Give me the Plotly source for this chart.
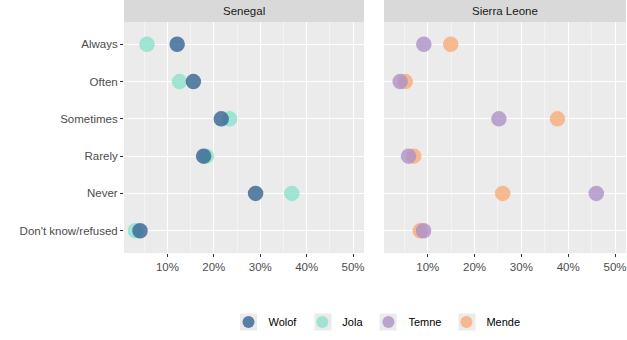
import plotly.graph_objects as go

categories = ["Always", "Often", "Sometimes", "Rarely", "Never", "Don't know/refused"]
wolof = [12.1, 15.6, 21.6, 17.8, 29.0, 4.1]
jola = [5.6, 12.6, 23.4, 18.4, 36.8, 3.1]
temne = [9.15, 4.1, 25.2, 5.9, 46.0, 9.1]
mende = [14.9, 5.2, 37.7, 7.0, 26.0, 8.4]
panels = ["Senegal", "Sierra Leone"]
x_ticks = [10, 20, 30, 40, 50]
x_tick_labels = ["10%", "20%", "30%", "40%", "50%"]

colors = {"Wolof": "#366493", "Jola": "#8CE1CD", "Temne": "#AC91C8", "Mende": "#F7AC78"}

W, H = 627, 340
FONT = "Liberation Sans, Arial, sans-serif"

def px(x):
    return x / W

def py(y):
    return 1 - y / H

fig = go.Figure()

series = [
    ("Jola", jola, "x", "y", 2),
    ("Wolof", wolof, "x", "y", 1),
    ("Mende", mende, "x2", "y2", 4),
    ("Temne", temne, "x2", "y2", 3),
]
for name, vals, xa, ya, rank in series:
    fig.add_trace(go.Scatter(
        x=vals, y=categories, mode="markers", name=name,
        xaxis=xa, yaxis=ya, legendrank=rank,
        marker=dict(size=15.5, color=colors[name], opacity=0.8, line=dict(width=0)),
        hoverinfo="x+y+name",
    ))

ydom = [py(253), py(22)]
xdom1 = [px(124), px(364)]
xdom2 = [px(384), px(626)]

xcommon = dict(
    range=[0.65, 52.35], tickmode="array", tickvals=x_ticks, ticktext=x_tick_labels,
    showgrid=True, gridcolor="white", gridwidth=1.1, zeroline=False,
    minor=dict(tickmode="array", tickvals=[5, 15, 25, 35, 45], showgrid=True, gridcolor="#F4F4F4", gridwidth=0.6),
    ticks="outside", ticklen=3, tickcolor="#333333", tickwidth=1,
    tickfont=dict(family=FONT, size=11.5, color="#4D4D4D"),
    showline=False, automargin=False, fixedrange=True,
)
ycommon = dict(
    categoryorder="array", categoryarray=categories, range=[5.6, -0.6],
    showgrid=True, gridcolor="white", gridwidth=1.1, zeroline=False,
    ticklen=3, tickcolor="#333333", tickwidth=1,
    tickfont=dict(family=FONT, size=11.5, color="#4D4D4D"),
    showline=False, automargin=False, fixedrange=True,
)

fig.update_layout(
    width=W, height=H,
    margin=dict(l=0, r=0, t=0, b=0),
    paper_bgcolor="white", plot_bgcolor="#EBEBEB",
    xaxis=dict(domain=xdom1, anchor="y", **xcommon),
    xaxis2=dict(domain=xdom2, anchor="y2", **xcommon),
    yaxis=dict(domain=ydom, anchor="x", ticks="outside", **ycommon),
    yaxis2=dict(domain=ydom, anchor="x2", ticks="", showticklabels=False, **ycommon),
    showlegend=True,
    legend=dict(
        orientation="h", x=px(377), xanchor="center", y=py(322), yanchor="middle",
        font=dict(family=FONT, size=11, color="#000000"),
        itemsizing="constant", bgcolor="rgba(0,0,0,0)", traceorder="normal",
        itemclick=False, itemdoubleclick=False,
    ),
    font=dict(family=FONT),
)

# facet strips
for dom, label in zip([xdom1, xdom2], panels):
    fig.add_shape(type="rect", xref="paper", yref="paper",
                  x0=dom[0], x1=dom[1], y0=py(22), y1=1,
                  fillcolor="#D9D9D9", line=dict(width=0), layer="below")
    fig.add_annotation(xref="paper", yref="paper", x=(dom[0] + dom[1]) / 2, y=py(11),
                       text=label, showarrow=False, xanchor="center", yanchor="middle",
                       font=dict(family=FONT, size=11.5, color="#1A1A1A"))

# grey legend key backgrounds
for cx in [248.5, 323, 388, 467]:
    fig.add_shape(type="rect", xref="paper", yref="paper",
                  x0=px(cx - 8.5), x1=px(cx + 8.5), y0=py(330.5), y1=py(313.5),
                  fillcolor="#EBEBEB", line=dict(width=0), layer="below")

fig.write_html("out.html")
